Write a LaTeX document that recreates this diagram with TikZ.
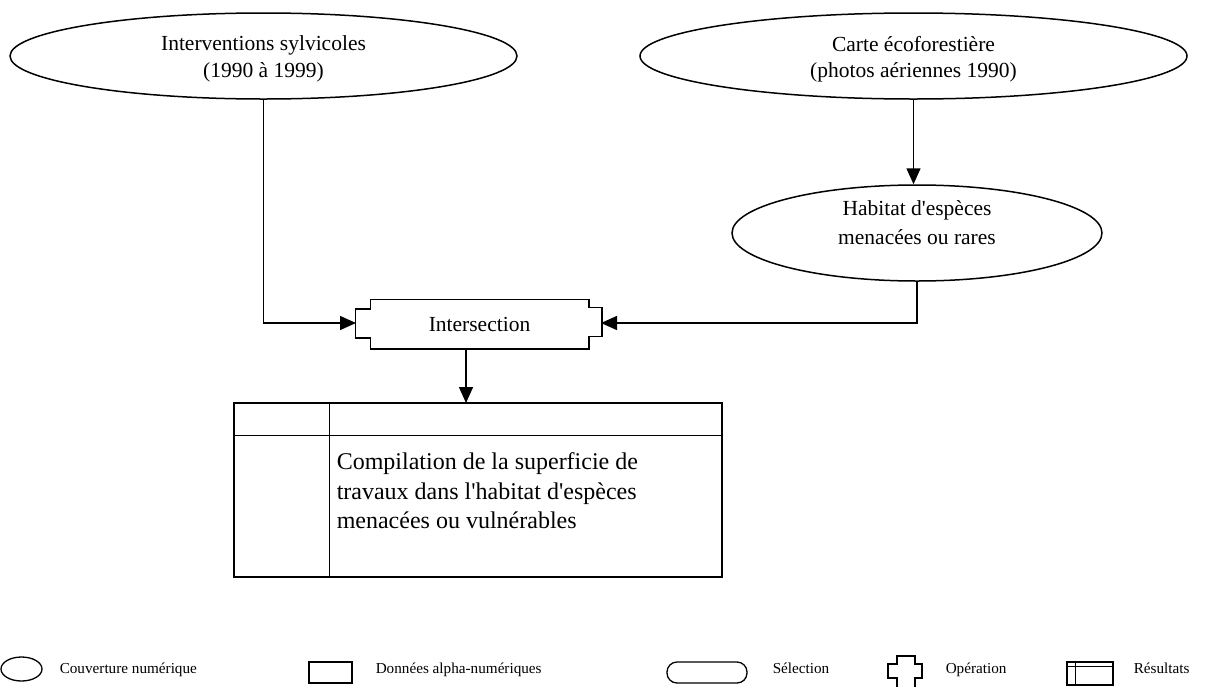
\documentclass[tikz,border=0pt]{standalone}
\usepackage{fontspec}
\setmainfont{Liberation Serif}[Ligatures=TeXOff]
\usetikzlibrary{shapes.geometric,arrows.meta,calc}
\begin{document}
\begin{tikzpicture}[x=1pt,y=-1pt,line width=1.5pt,
  txt/.style={font=\fontsize{21.5}{26.5}\selectfont, align=center, inner sep=0pt},
  cover/.style={ellipse, draw, inner sep=0pt},
  arr/.style={-{Triangle[length=16pt,width=14pt]}, line width=1.5pt},
  legtxt/.style={font=\fontsize{15.2}{18}\selectfont, anchor=base west, inner sep=0pt},
  legicon/.style={draw, line width=1.3pt, inner sep=0pt}]
\useasboundingbox (0,0) rectangle (1207,686);

% inputs
\node[cover, minimum width=507pt, minimum height=86pt] (e1) at (263.5,56) {};
\node[txt] (e1t) at (263.5,59) {Interventions sylvicoles\\(1990 à 1999)};
\node[cover, minimum width=547pt, minimum height=86pt] (e2) at (913.5,56) {};
\node[txt] (e2t) at (913.5,59) {Carte écoforestière\\(photos aériennes 1990)};
\node[cover, minimum width=370pt, minimum height=96pt] (e3) at (917,233) {};
\node[txt, font=\fontsize{21.5}{29}\selectfont] (e3t) at (917,223) {Habitat d'espèces\\menacées ou rares};

% operation
\node[txt, minimum width=217pt, minimum height=48pt] (op) at (479.5,324) {Intersection};
\draw (op.north west) -- (op.north east) -- ++(0,8) -- ++(13,0) -- ++(0,29) -- ++(-13,0)
  -- (op.south east) -- (op.south west) -- ++(0,-11) -- ++(-15,0) -- ++(0,-29) -- ++(15,0) -- cycle;
\coordinate (opL) at (356,323);
\coordinate (opR) at (601,323);

% result table
\node[draw, inner sep=0pt, minimum width=488pt, minimum height=174pt] (tab) at (478,490) {};
\draw ($(tab.north west)+(0,33)$) -- ($(tab.north east)+(0,33)$);
\draw ($(tab.north west)+(96,0)$) -- ($(tab.south west)+(96,0)$);
\node[anchor=west, align=left, inner sep=0pt, font=\fontsize{24}{29.5}\selectfont] (res) at (336,491)
  {Compilation de la superficie de\\travaux dans l'habitat d'espèces\\menacées ou vulnérables};
\coordinate (tabin) at (466,403);

% connectors
\draw[arr] (e1.south) |- (opL);
\draw[arr] (e3.south) |- (opR);
\draw[arr] (e2.south) -- (e2.south |- e3.north);
\draw[arr] (op.south -| tabin) -- (tabin);

% legend
\node[ellipse, legicon, minimum width=41pt, minimum height=24pt] (lg1) at (21.5,669) {};
\node[legtxt] (lt1) at (59,673) {Couverture numérique};
\node[legicon, minimum width=43pt, minimum height=21pt] (lg2) at (330.5,672.5) {};
\node[legtxt] (lt2) at (375,673) {Données alpha-numériques};
\node[legicon, rounded corners=10pt, minimum width=80pt, minimum height=21pt] (lg3) at (707,672.5) {};
\node[legtxt] (lt3) at (772,673) {Sélection};
\draw[line width=1.3pt] (897,690) -- (897,678) -- (888,678) -- (888,664) -- (897,664) -- (897,656)
  -- (915,656) -- (915,664) -- (922,664) -- (922,678) -- (915,678) -- (915,690);
\node[legtxt] (lt4) at (945,673) {Opération};
\node[legicon, minimum width=46pt, minimum height=23pt] (lg5) at (1090,673.5) {};
\draw[line width=1.3pt] ($(lg5.north west)+(0,5)$) -- ($(lg5.north east)+(0,5)$);
\draw[line width=1.3pt] ($(lg5.north west)+(9,0)$) -- ($(lg5.south west)+(9,0)$);
\node[legtxt] (lt5) at (1133,673) {Résultats};
\end{tikzpicture}
\end{document}
